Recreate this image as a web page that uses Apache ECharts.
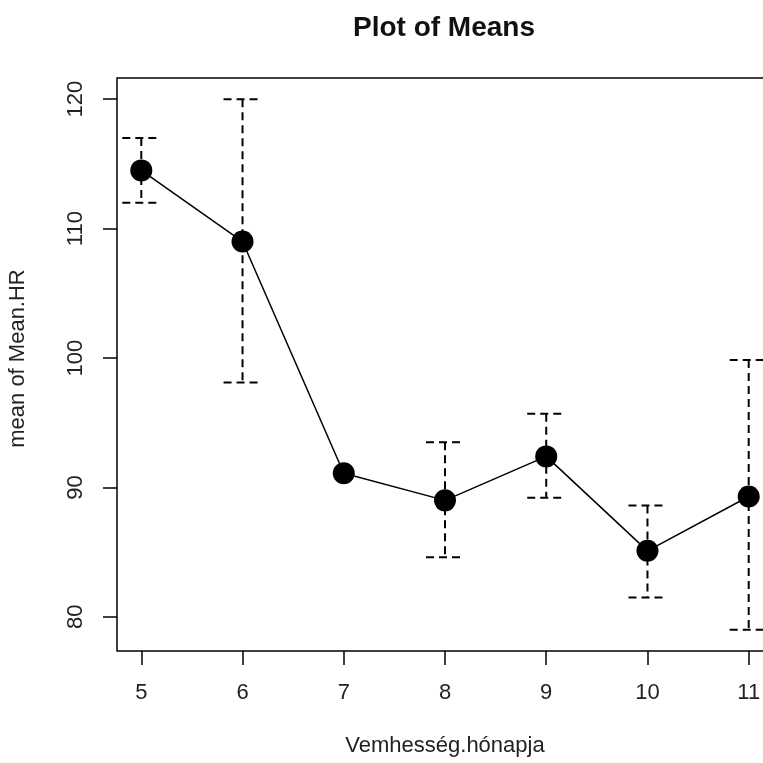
<!DOCTYPE html>
<html>
<head>
<meta charset="utf-8">
<script src="https://cdn.jsdelivr.net/npm/echarts@6/dist/echarts.min.js"></script>
<style>
  html, body { margin: 0; padding: 0; background: #fff; }
  #chart { width: 763px; height: 763px; }
</style>
</head>
<body>
<div id="chart"></div>
<script>
var months = [5, 6, 7, 8, 9, 10, 11];
var means = [114.5, 109.0, 91.1, 89.0, 92.4, 85.1, 89.3];
var upper = [117.0, 120.0, null, 93.5, 95.7, 88.6, 99.85];
var lower = [112.0, 98.1, null, 84.6, 89.2, 81.5, 79.0];
var xTicks = [5, 6, 7, 8, 9, 10, 11];
var yTicks = [80, 90, 100, 110, 120];

var font = 'Liberation Sans, Arial, sans-serif';

var lineData = months.map(function (m, i) { return [m, means[i]]; });
var errData = [];
months.forEach(function (m, i) {
    if (upper[i] != null) errData.push([m, lower[i], upper[i]]);
});

var dashStyle = { stroke: '#000', lineWidth: 2, lineDash: [8, 5] };

function renderError(params, api) {
    var x = api.value(0);
    var lo = api.coord([x, api.value(1)]);
    var hi = api.coord([x, api.value(2)]);
    var w = 19;
    return {
        type: 'group',
        children: [
            { type: 'line', shape: { x1: hi[0], y1: hi[1], x2: lo[0], y2: lo[1] }, style: dashStyle },
            { type: 'line', shape: { x1: hi[0] - w, y1: hi[1], x2: hi[0] + w, y2: hi[1] }, style: dashStyle },
            { type: 'line', shape: { x1: lo[0] - w, y1: lo[1], x2: lo[0] + w, y2: lo[1] }, style: dashStyle }
        ]
    };
}

var chart = echarts.init(document.getElementById('chart'));
chart.setOption({
    animation: false,
    backgroundColor: '#fff',
    title: {
        text: 'Plot of Means',
        left: 348,
        top: 9,
        textStyle: { fontFamily: font, fontSize: 28, fontWeight: 'bold', color: '#111' }
    },
    grid: {
        left: 117, top: 78, right: -10, bottom: 112,
        outerBoundsMode: 'none',
        containLabel: false,
        show: true, borderColor: '#000', borderWidth: 1.5, backgroundColor: 'transparent'
    },
    xAxis: {
        type: 'value',
        min: 4.76, max: 11.24,
        name: 'Vemhesség.hónapja',
        nameLocation: 'middle',
        nameGap: 84,
        nameTextStyle: { fontFamily: font, fontSize: 22, color: '#222' },
        splitLine: { show: false },
        axisLine: { show: false },
        axisTick: { show: true, customValues: xTicks, length: 14, lineStyle: { color: '#000', width: 1.5 } },
        axisLabel: { customValues: xTicks, margin: 31, fontFamily: font, fontSize: 22, color: '#222' }
    },
    yAxis: {
        type: 'value',
        min: 77.36, max: 121.64,
        name: 'mean of Mean.HR',
        nameLocation: 'middle',
        nameGap: 88,
        nameTextStyle: { fontFamily: font, fontSize: 22, color: '#222', padding: [0, 0, 0, 12] },
        splitLine: { show: false },
        axisLine: { show: false },
        axisTick: { show: true, customValues: yTicks, length: 14, lineStyle: { color: '#000', width: 1.5 } },
        axisLabel: { customValues: yTicks, rotate: 90, margin: 30, fontFamily: font, fontSize: 22, color: '#222' }
    },
    series: [
        {
            type: 'custom',
            renderItem: renderError,
            data: errData,
            encode: { x: 0, y: [1, 2] },
            z: 1
        },
        {
            type: 'line',
            data: lineData,
            symbol: 'circle',
            symbolSize: 22,
            itemStyle: { color: '#000' },
            lineStyle: { color: '#000', width: 1.5 },
            z: 2
        }
    ]
});
</script>
</body>
</html>
